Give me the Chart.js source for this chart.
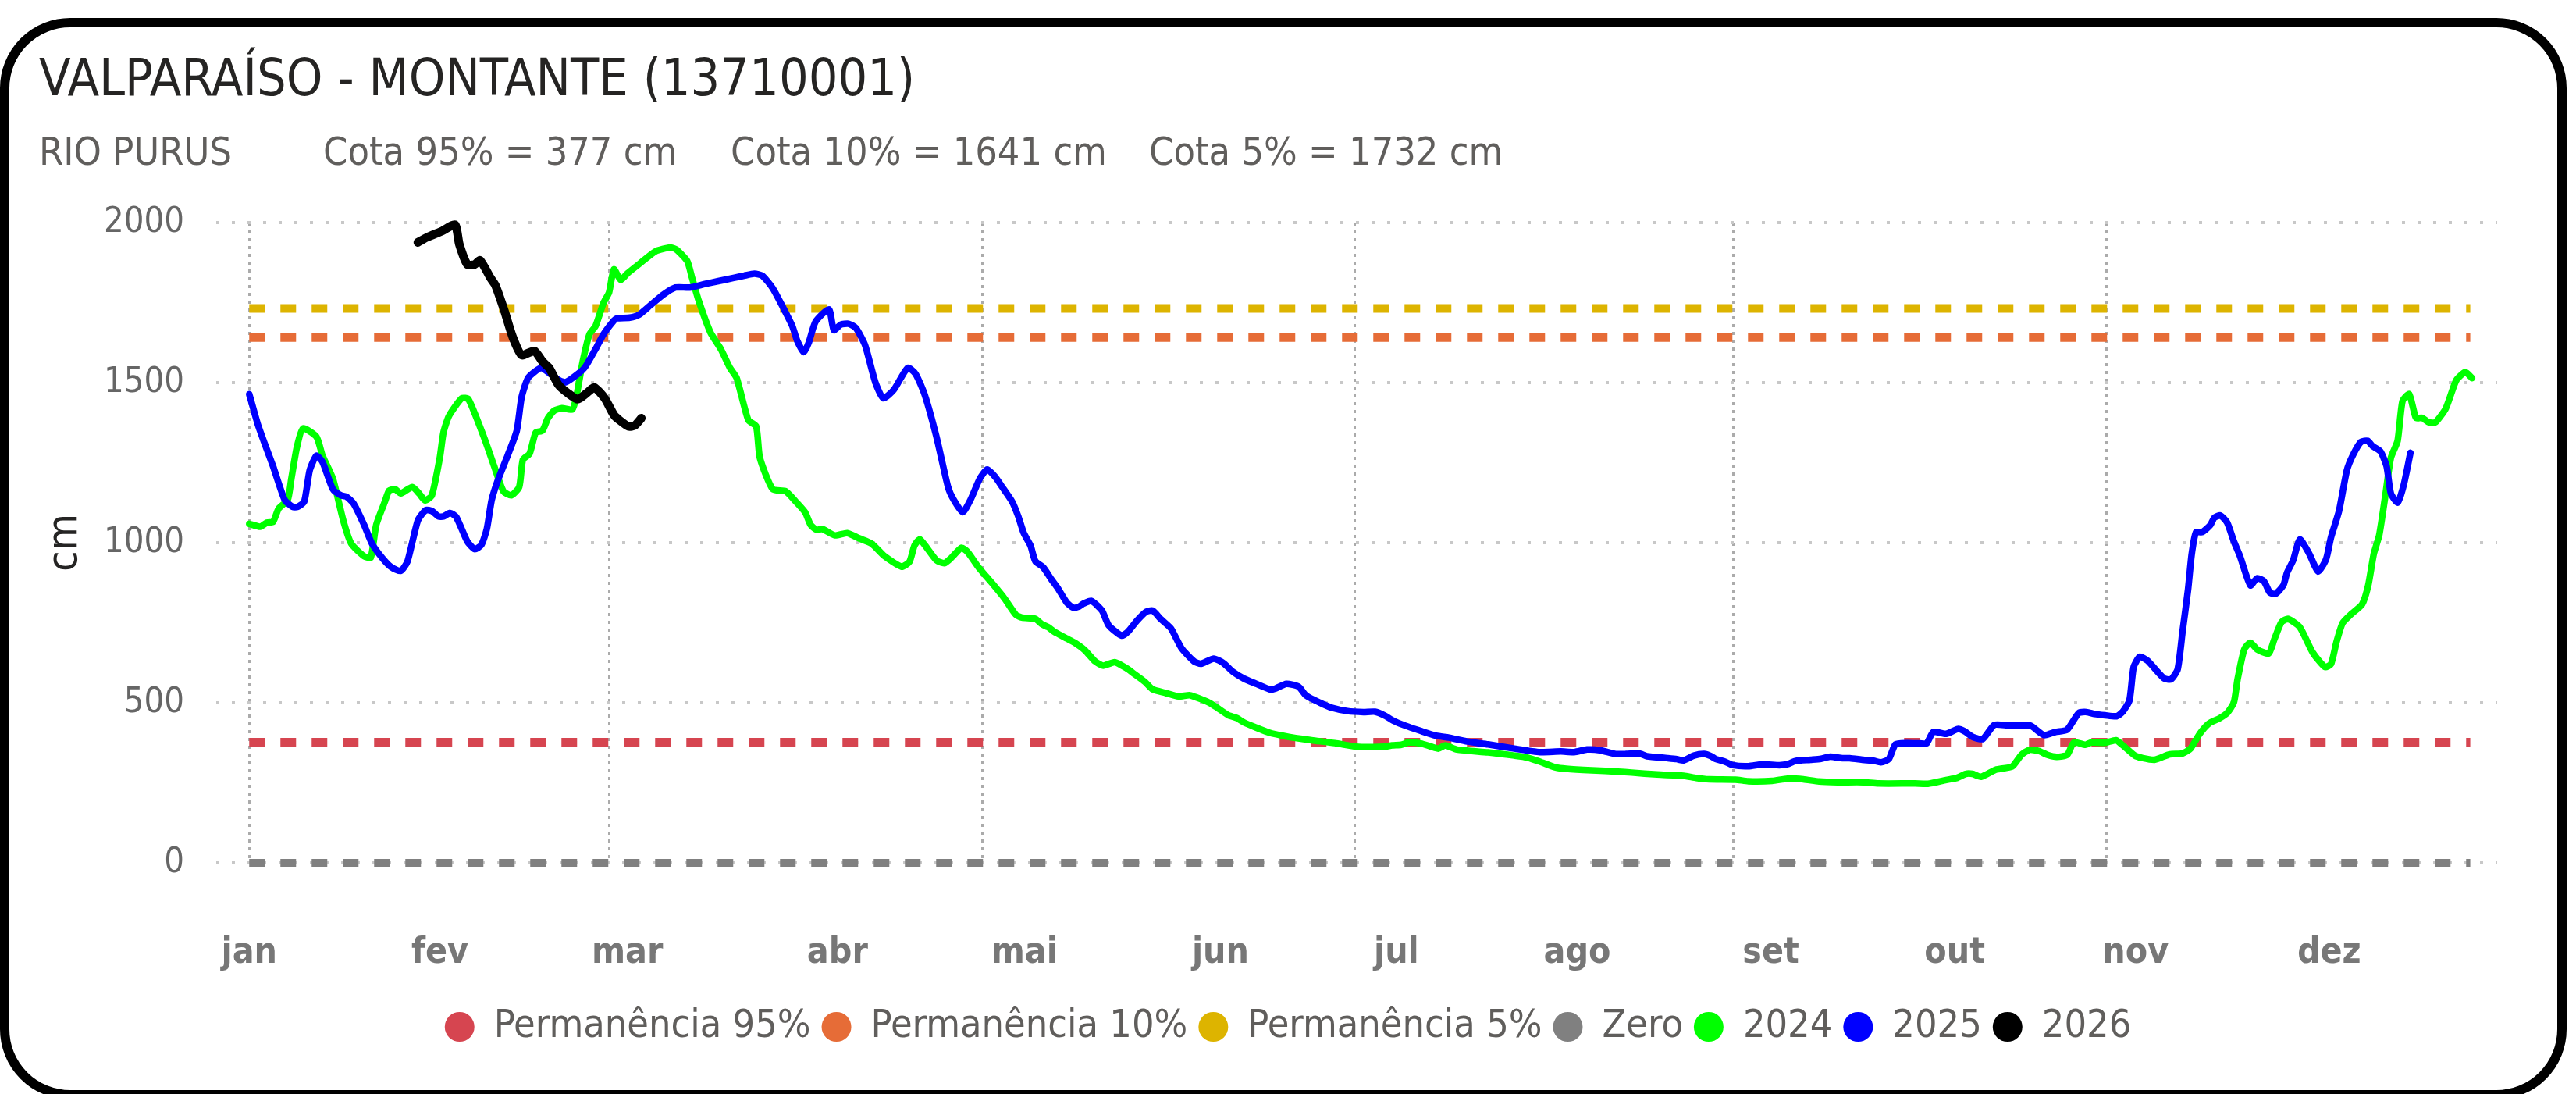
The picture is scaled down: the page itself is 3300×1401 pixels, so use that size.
<!DOCTYPE html>
<html lang="pt">
<head>
<meta charset="UTF-8">
<title>Valparaíso - Montante</title>
<script src="https://cdn.jsdelivr.net/npm/chart.js"></script>
<style>
  body { margin: 0; width: 3300px; height: 1401px; background: #fff; overflow: hidden; position: relative;
         font-family: 'DejaVu Sans Condensed', 'DejaVu Sans', sans-serif; }
  .card { position: absolute; left: 0; top: 23px; width: 3288px; height: 1385px; box-sizing: border-box;
          border: 12px solid #000; border-radius: 90px; }
  .title { position: absolute; left: 50px; top: 67px; font-size: 66px; line-height: 66px; color: #252423; white-space: nowrap; }
  .sub { position: absolute; top: 169px; font-size: 50px; line-height: 50px; color: #605E5C; white-space: nowrap; }
  #chart { position: absolute; left: 0; top: 0; }
</style>
</head>
<body>
<div class="card"></div>
<div class="title">VALPARAÍSO - MONTANTE (13710001)</div>
<div class="sub" style="left:50px">RIO PURUS</div>
<div class="sub" style="left:414px">Cota 95% = 377 cm</div>
<div class="sub" style="left:936px">Cota 10% = 1641 cm</div>
<div class="sub" style="left:1472px">Cota 5% = 1732 cm</div>
<canvas id="chart" width="3300" height="1401"></canvas>

<script>
// month axis (day of year)
const monthLabels = ['jan', 'fev', 'mar', 'abr', 'mai', 'jun', 'jul', 'ago', 'set', 'out', 'nov', 'dez'];
const monthStartDays = [0, 31, 59, 90, 120, 151, 181, 212, 243, 273, 304, 334];
const monthLabelDays = [0, 31.2, 61.9, 96.3, 126.9, 159.0, 187.8, 217.4, 249.1, 279.2, 308.8, 340.5];

// reference levels (cm)
const cota95 = 377;
const cota10 = 1641;
const cota5 = 1732;
const zeroLevel = 0;
const refSpan = [0, 363.6];

// 2024
const days2024 = [
  0, 1.8, 2.9, 3.9, 4.8, 6.3, 6.9, 7.8, 8.8, 11.0,
  12.0, 13.7, 15.4, 16.7, 18.8, 19.9, 20.8, 22.2, 22.9, 23.9,
  24.8, 26.7, 27.8, 28.8, 29.9, 31.2, 31.8, 32.7, 34.8, 35.9,
  38.4, 40.1, 41.6, 42.9, 44.2, 44.8, 45.9, 46.9, 48.0, 48.9,
  49.9, 51.2, 52.9, 53.6, 54.6, 55.7, 56.7, 58.0, 58.9, 59.7,
  60.8, 61.9, 64.0, 66.5, 68.9, 69.9, 71.7, 72.5, 73.6, 75.5,
  77.2, 78.7, 79.8, 81.7, 83.0, 83.6, 85.7, 87.8, 89.5, 91.0,
  91.9, 92.9, 93.8, 95.9, 97.9, 99.8, 101.9, 104.0, 106.8, 108.1,
  108.9, 109.8, 112.5, 113.8, 114.9, 116.6, 117.6, 119.4, 121.9, 123.6,
  125.5, 126.5, 128.7, 129.8, 130.8, 131.7, 133.8, 135.1, 136.8, 138.5,
  139.8, 141.7, 143.6, 144.9, 146.6, 147.9, 150.0, 152.1, 153.9, 154.9,
  156.0, 157.3, 158.5, 160.3, 161.7, 162.8, 164.9, 167.1, 169.2, 171.3,
  173.9, 177.7, 181.6, 185.8, 187.1, 188.6, 189.8, 191.8, 193.5, 194.7,
  195.8, 197.7, 202.8, 207.1, 209.2, 211.3, 213.9, 215.6, 219.8, 224.1,
  226.3, 230.5, 234.8, 236.9, 239.0, 243.3, 245.4, 249.3, 251.8, 254.4,
  257.0, 260.0, 264.2, 266.7, 272.7, 274.8, 277.8, 279.5, 281.0, 282.1,
  283.5, 285.9, 288.6, 290.1, 291.4, 292.9, 294.4, 295.9, 297.6, 298.7,
  300.6, 301.6, 303.8, 305.6, 306.8, 308.7, 309.8, 311.9, 314.4, 316.5,
  317.8, 319.3, 320.8, 322.5, 323.8, 324.9, 325.5, 326.6, 327.6, 328.7,
  330.6, 331.5, 332.7, 333.8, 335.7, 337.8, 339.8, 340.8, 341.7, 342.7,
  344.0, 345.9, 346.9, 347.8, 348.7, 349.7, 350.6, 351.7, 352.5, 353.6,
  354.7, 355.7, 356.8, 357.9, 359.6, 361.3, 362.8, 363.9
];
const values2024 = [
  1059, 1050, 1063, 1065, 1106, 1134, 1200, 1298, 1357, 1331,
  1272, 1200, 1069, 997, 958, 954, 1056, 1128, 1163, 1167,
  1154, 1174, 1154, 1132, 1148, 1265, 1344, 1396, 1451, 1448,
  1331, 1239, 1161, 1148, 1174, 1259, 1278, 1344, 1350, 1389,
  1412, 1420, 1416, 1461, 1566, 1651, 1677, 1749, 1781, 1854,
  1821, 1841, 1873, 1910, 1922, 1916, 1880, 1827, 1755, 1657,
  1605, 1546, 1514, 1383, 1363, 1265, 1167, 1161, 1128, 1095,
  1056, 1040, 1043, 1023, 1030, 1014, 997, 958, 925, 941,
  991, 1010, 945, 936, 952, 984, 971, 923, 867, 827,
  775, 766, 762, 745, 736, 723, 701, 688, 664, 629,
  616, 627, 608, 590, 566, 542, 531, 520, 524, 518,
  510, 499, 484, 461, 452, 439, 422, 406, 397, 390,
  383, 374, 362, 363, 367, 369, 376, 373, 363, 357,
  367, 354, 345, 335, 329, 316, 298, 294, 289, 285,
  282, 276, 272, 265, 261, 260, 255, 256, 263, 261,
  254, 252, 252, 248, 248, 247, 259, 265, 278, 278,
  269, 291, 301, 337, 353, 350, 337, 331, 337, 376,
  369, 376, 375, 383, 366, 335, 328, 322, 339, 342,
  357, 403, 435, 451, 468, 501, 573, 667, 688, 667,
  654, 697, 752, 762, 736, 657, 612, 621, 690, 749,
  775, 808, 867, 965, 1024, 1148, 1265, 1318, 1442, 1464,
  1390, 1390, 1376, 1376, 1420, 1507, 1533, 1514
];

// 2025
const days2025 = [
  0, 1.4, 2.5, 3.9, 5.8, 7.1, 7.9, 9.0, 9.9, 11.0,
  12.0, 13.7, 15.0, 15.9, 17.1, 18.8, 20.1, 21.8, 23.3, 24.8,
  25.9, 27.6, 28.9, 29.9, 31.0, 31.8, 32.9, 33.9, 35.7, 36.9,
  38.0, 38.9, 39.7, 40.8, 42.3, 43.8, 44.6, 45.7, 47.8, 49.3,
  50.8, 51.8, 53.8, 55.0, 56.7, 58.0, 59.7, 60.2, 62.3, 63.8,
  65.7, 67.8, 69.8, 72.1, 74.6, 76.8, 79.3, 81.0, 82.7, 84.0,
  85.7, 87.2, 88.9, 89.7, 90.8, 91.6, 92.7, 94.9, 95.7, 96.8,
  98.1, 99.3, 100.8, 102.5, 103.8, 105.5, 107.8, 109.1, 110.6, 112.5,
  114.4, 115.3, 116.8, 118.1, 119.6, 120.8, 122.1, 123.2, 124.9, 125.9,
  126.8, 127.9, 128.7, 130.0, 131.3, 132.3, 133.8, 134.9, 135.9, 136.6,
  137.9, 139.6, 140.7, 142.8, 143.9, 145.3, 146.8, 147.9, 149.2, 150.9,
  152.6, 154.7, 155.8, 157.9, 159.4, 161.1, 162.8, 164.9, 167.1, 167.9,
  169.8, 171.8, 173.0, 175.2, 177.3, 179.8, 182.4, 184.3, 185.8, 187.3,
  189.2, 191.8, 194.3, 196.4, 199.4, 202.8, 207.1, 211.3, 214.7, 216.9,
  219.0, 221.1, 223.7, 225.4, 227.5, 228.8, 232.2, 233.7, 234.8, 236.5,
  238.2, 239.3, 240.1, 241.6, 242.9, 245.4, 247.8, 250.5, 251.8, 253.1,
  255.6, 257.3, 258.8, 260.8, 262.0, 264.2, 265.9, 267.1, 268.4, 269.5,
  271.4, 273.5, 274.6, 275.7, 277.8, 279.7, 280.7, 282.3, 283.8, 285.7,
  288.0, 289.7, 291.6, 293.8, 295.7, 297.6, 299.5, 300.8, 302.1, 303.8,
  305.7, 306.7, 307.8, 308.5, 309.5, 310.8, 312.3, 313.5, 314.6, 315.7,
  316.5, 317.4, 318.0, 318.7, 319.7, 321.0, 321.7, 322.7, 323.8, 324.9,
  325.9, 327.6, 328.7, 329.8, 330.8, 331.7, 333.0, 333.6, 334.6, 335.7,
  337.2, 338.7, 340.0, 340.8, 342.1, 343.4, 344.4, 345.7, 346.8, 347.6,
  348.9, 349.9, 350.6, 351.7, 352.7, 353.8
];
const values2025 = [
  1464, 1370, 1311, 1239, 1134, 1112, 1112, 1128, 1226, 1272,
  1252, 1167, 1148, 1144, 1122, 1056, 997, 952, 923, 912,
  941, 1069, 1102, 1099, 1082, 1082, 1093, 1080, 1004, 980,
  993, 1043, 1134, 1200, 1272, 1350, 1455, 1516, 1546, 1527,
  1507, 1501, 1527, 1549, 1605, 1651, 1694, 1701, 1703, 1712,
  1742, 1775, 1797, 1797, 1808, 1817, 1827, 1834, 1840, 1834,
  1795, 1742, 1677, 1631, 1595, 1625, 1690, 1729, 1664, 1681,
  1684, 1671, 1618, 1501, 1451, 1477, 1546, 1527, 1461, 1331,
  1174, 1135, 1095, 1135, 1200, 1229, 1206, 1176, 1128, 1082,
  1030, 991, 942, 923, 886, 860, 814, 797, 801, 810,
  818, 788, 742, 710, 723, 756, 784, 788, 762, 732,
  671, 629, 622, 638, 625, 596, 576, 559, 542, 544,
  559, 550, 523, 501, 484, 474, 471, 472, 461, 444,
  429, 412, 397, 391, 379, 370, 357, 346, 348, 346,
  354, 352, 340, 340, 342, 333, 327, 324, 320, 335,
  340, 333, 324, 316, 305, 302, 308, 305, 308, 318,
  322, 325, 332, 327, 327, 322, 319, 314, 324, 370,
  374, 373, 373, 409, 403, 418, 412, 392, 387, 431,
  429, 429, 429, 399, 409, 416, 468, 471, 465, 461,
  458, 472, 507, 612, 644, 631, 599, 576, 573, 605,
  723, 854, 965, 1033, 1033, 1054, 1078, 1085, 1063, 1004,
  958, 867, 889, 880, 844, 840, 867, 906, 945, 1010,
  967, 910, 949, 1017, 1098, 1226, 1274, 1315, 1318, 1302,
  1285, 1239, 1154, 1125, 1180, 1281
];

// 2026
const days2026 = [
  27.6, 29.1, 31.6, 33.7, 34.4, 35.7, 36.9, 37.8, 39.5, 40.3,
  41.8, 43.1, 44.6, 46.7, 48.0, 49.1, 50.6, 52.1, 53.8, 55.3,
  56.5, 58.2, 59.7, 60.6, 62.1, 63.1, 64.2
];
const values2026 = [
  1938, 1954, 1974, 1993, 1932, 1869, 1869, 1882, 1827, 1804,
  1723, 1644, 1586, 1599, 1566, 1546, 1494, 1468, 1448, 1468,
  1485, 1451, 1399, 1383, 1363, 1366, 1389
];

const FONT = "'DejaVu Sans Condensed', 'DejaVu Sans', sans-serif";

function toPoints(days, values) {
  return days.map((d, i) => ({ x: d, y: values[i] }));
}

function refLine(label, value, color, width, order) {
  return {
    label: label,
    data: refSpan.map(d => ({ x: d, y: value })),
    borderColor: color,
    backgroundColor: color,
    borderWidth: width,
    borderDash: [20, 20],
    borderCapStyle: 'butt',
    pointRadius: 0,
    clip: false,
    order: order
  };
}

function yearLine(label, days, values, color, width, order) {
  return {
    label: label,
    data: toPoints(days, values),
    borderColor: color,
    backgroundColor: color,
    borderWidth: width,
    borderJoinStyle: 'round',
    borderCapStyle: 'round',
    tension: 0.2,
    pointRadius: 0,
    clip: false,
    order: order
  };
}

const ctx = document.getElementById('chart').getContext('2d');
new Chart(ctx, {
  type: 'line',
  data: {
    datasets: [
      refLine('Permanência 95%', cota95, '#D64550', 11, 6),
      refLine('Permanência 10%', cota10, '#E66C37', 11, 5),
      refLine('Permanência 5%', cota5, '#DDB400', 11, 4),
      refLine('Zero', zeroLevel, '#808080', 10, 3),
      yearLine('2024', days2024, values2024, '#00FF00', 8.5, 2),
      yearLine('2025', days2025, values2025, '#0000FF', 8.5, 1),
      yearLine('2026', days2026, values2026, '#000000', 11, 0)
    ]
  },
  options: {
    responsive: false,
    devicePixelRatio: 1,
    animation: false,
    layout: { padding: { left: 0, top: 285, right: 0, bottom: 51 } },
    plugins: {
      tooltip: { enabled: false },
      legend: {
        position: 'bottom',
        labels: {
          usePointStyle: true,
          pointStyle: 'circle',
          boxHeight: 27,
          pointStyleWidth: 38,
          padding: 14,
          color: '#605E5C',
          font: { family: FONT, size: 50 },
          sort: (a, b) => a.datasetIndex - b.datasetIndex,
          generateLabels: chart => Chart.defaults.plugins.legend.labels.generateLabels(chart).map(l => ({
            ...l, lineWidth: 0, lineDash: [], fillStyle: l.strokeStyle
          }))
        }
      }
    },
    scales: {
      // gridlines every other month start
      x: {
        type: 'linear',
        min: -5.4,
        max: 368,
        afterBuildTicks: scale => { scale.ticks = monthStartDays.map(v => ({ value: v })); },
        afterFit: scale => { scale.height = 0; },
        ticks: { display: false },
        grid: {
          drawTicks: false,
          color: c => (c.index % 2 === 0 ? '#ABABAB' : 'rgba(0,0,0,0)'),
          lineWidth: 3
        },
        border: { display: false, dash: [4, 6] }
      },
      // month labels
      xl: {
        type: 'linear',
        position: 'bottom',
        min: -5.4,
        max: 368,
        afterBuildTicks: scale => { scale.ticks = monthLabelDays.map(v => ({ value: v })); },
        afterFit: scale => { scale.height = 171; },
        ticks: {
          autoSkip: false,
          maxRotation: 0,
          padding: 88,
          color: '#777777',
          font: { family: FONT, size: 46, weight: 'bold' },
          callback: (v, i) => monthLabels[i]
        },
        grid: { display: false, drawTicks: false },
        border: { display: false }
      },
      y: {
        min: 0,
        max: 2000,
        afterFit: scale => { scale.width = 277; },
        ticks: {
          stepSize: 500,
          padding: 41,
          color: '#666666',
          font: { family: FONT, size: 45 },
          callback: v => String(v)
        },
        grid: { drawTicks: false, color: '#C8C8C8', lineWidth: 4 },
        border: { display: false, dash: [4, 16] },
        title: {
          display: true,
          text: 'cm',
          color: '#252423',
          font: { family: FONT, size: 54 },
          padding: { top: 52, bottom: 0 }
        }
      },
      yr: {
        position: 'right',
        afterFit: scale => { scale.width = 101; },
        ticks: { display: false },
        grid: { display: false },
        border: { display: false }
      }
    }
  }
});
</script>
</body>
</html>
